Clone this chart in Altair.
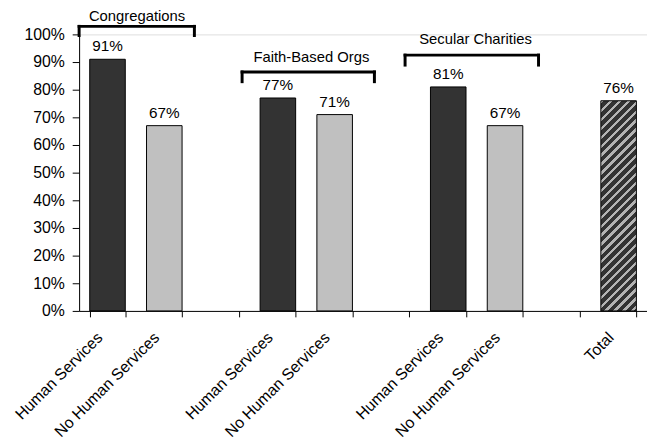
import altair as alt
import pandas as pd

# ---- data ----
keys = ["cong_hs", "cong_nhs", "gap1", "fbo_hs", "fbo_nhs", "gap2",
        "sec_hs", "sec_nhs", "gap3", "total"]
tick_labels = ["Human Services", "No Human Services", "",
               "Human Services", "No Human Services", "",
               "Human Services", "No Human Services", "", "Total"]

bar_keys = ["cong_hs", "cong_nhs", "fbo_hs", "fbo_nhs", "sec_hs", "sec_nhs"]
bar_values = [0.91, 0.67, 0.77, 0.71, 0.81, 0.67]
bar_kind = ["hs", "nhs", "hs", "nhs", "hs", "nhs"]

total_key = ["total"]
total_value = [0.76]

groups = ["Congregations", "Faith-Based Orgs", "Secular Charities"]
group_start = [0.0, 2.87, 5.74]
group_end = [2.03, 5.20, 8.09]
group_top = [1.029, 0.864, 0.925]
group_leg = [0.996, 0.829, 0.889]
group_label_x = [1.02, 4.09, 6.98]
group_label_y = [1.066, 0.918, 0.982]

# ---- style ----
W, H = 575, 280
PAD_IN = 0.374
FONT = "Liberation Sans"
FS = 15

bars = pd.DataFrame({"key": bar_keys, "value": bar_values, "kind": bar_kind})
total = pd.DataFrame({"key": total_key, "value": total_value})
labels_df = pd.concat([bars[["key", "value"]], total], ignore_index=True)
brackets = pd.DataFrame({"group": groups, "start": group_start, "end": group_end,
                         "top": group_top, "leg": group_leg,
                         "lx": group_label_x, "ly": group_label_y})
legs = pd.DataFrame({"x": group_start + group_end,
                     "top": group_top + group_top,
                     "leg": group_leg + group_leg})

# hatch via hard-stop linear gradient (45 degree stripes)
bw = W / len(keys) * (1 - PAD_IN)
bh = total_value[0] * H
k = (bw + bh) / (bw ** 2 + bh ** 2)
L = bw + bh
period = 9.0
light_frac = 0.38
stops = []
n = int(L // period) + 1
for i in range(n):
    s = i * period / L
    if s >= 1.0:
        break
    a = min(1.0, s + light_frac * period / L)
    e = min(1.0, (i + 1) * period / L)
    stops += [{"offset": s, "color": "#b4b4b4"}, {"offset": a, "color": "#b4b4b4"},
              {"offset": a, "color": "#333333"}, {"offset": e, "color": "#333333"}]
gradient = {"gradient": "linear", "x1": 0, "y1": 0, "x2": bw * k, "y2": bh * k,
            "stops": stops}

label_expr = "[" + ",".join("'%s'" % t for t in tick_labels) + "][indexof([" + \
    ",".join("'%s'" % t for t in keys) + "], datum.value)]"

xband = alt.X("key:N",
              scale=alt.Scale(domain=keys, paddingInner=PAD_IN, paddingOuter=PAD_IN / 2),
              axis=alt.Axis(title=None, labelAngle=-45, labelAlign="right",
                            labelBaseline="middle", labelExpr=label_expr,
                            tickBand="extent", tickSize=6, tickColor="black",
                            domainColor="black", labelColor="black",
                            labelFontSize=16, labelFont=FONT, labelPadding=18,
                            labelOffset=-8, labelOverlap=False))
yaxis = alt.Axis(title=None, format=".0%",
                 values=[i / 10 for i in range(11)],
                 tickSize=7, tickColor="black", domainColor="black",
                 labelColor="black", labelFontSize=16, labelFont=FONT,
                 labelPadding=8, grid=False)
yscale = alt.Scale(domain=[0, 1])
yq = alt.Y("value:Q", scale=yscale, axis=yaxis)

bar_layer = alt.Chart(bars).mark_bar(stroke="black", strokeWidth=1).encode(
    x=xband, y=yq,
    fill=alt.Fill("kind:N", scale=alt.Scale(domain=["hs", "nhs"],
                                            range=["#333333", "#c0c0c0"]),
                  legend=None))

total_layer = alt.Chart(total).mark_bar(fill=gradient, stroke="black",
                                        strokeWidth=1).encode(x=xband, y=yq)

text_layer = alt.Chart(labels_df).mark_text(
    baseline="alphabetic", dy=-8, fontSize=15.5, font=FONT, color="black").encode(
    x=xband, y=yq, text=alt.Text("value:Q", format=".0%"))

xq = alt.Scale(domain=[0, len(keys)])
hline = alt.Chart(brackets).mark_rule(strokeWidth=3, color="black",
                                      strokeCap="square").encode(
    x=alt.X("start:Q", scale=xq, axis=None), x2="end:Q",
    y=alt.Y("top:Q", scale=yscale, axis=yaxis))
vline = alt.Chart(legs).mark_rule(strokeWidth=3, color="black",
                                  strokeCap="square").encode(
    x=alt.X("x:Q", scale=xq, axis=None),
    y=alt.Y("top:Q", scale=yscale, axis=yaxis), y2="leg:Q")
glabel = alt.Chart(brackets).mark_text(
    baseline="middle", fontSize=FS, font=FONT, color="black").encode(
    x=alt.X("lx:Q", scale=xq, axis=None),
    y=alt.Y("ly:Q", scale=yscale, axis=yaxis),
    text="group:N")

main = alt.layer(bar_layer, total_layer, text_layer)
ann = alt.layer(hline, vline, glabel)

chart = alt.layer(main, ann).resolve_scale(x="independent").properties(
    width=W, height=H,
    autosize=alt.AutoSizeParams(type="none"),
    padding={"left": 72, "top": 24, "right": 0, "bottom": 130},
).configure_view(stroke=None).configure(font=FONT)

chart.save("out.html", embed_options={"renderer": "svg", "actions": False})
